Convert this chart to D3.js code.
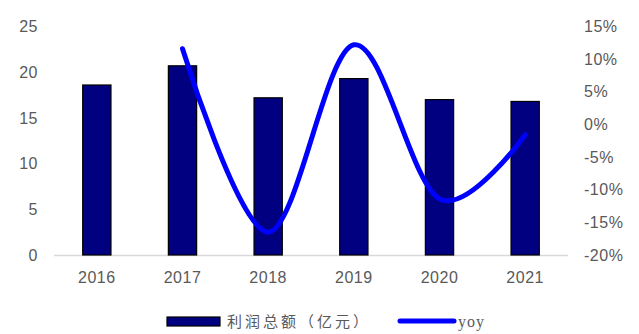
<!DOCTYPE html>
<html lang="zh">
<head>
<meta charset="utf-8">
<title>利润总额</title>
<script src="https://d3js.org/d3.v7.min.js"></script>
<style>
    body { margin: 0; background: #fff; }
    .tick-label { font-family: "Liberation Sans", Arial, sans-serif; font-size: 16px; fill: #595959; letter-spacing: 0.5px; }
    .legend-cn { font-family: "Noto Sans CJK SC", sans-serif; font-size: 15px; fill: #595959; letter-spacing: 3px; }
    .legend-en { font-family: "Liberation Serif", serif; font-size: 16px; fill: #595959; letter-spacing: 1px; }
</style>
</head>
<body>
<div id="chart"></div>
<script>
    // data
    var years = ["2016", "2017", "2018", "2019", "2020", "2021"];
    var profit = [18.6, 20.7, 17.2, 19.3, 17.0, 16.8];      // 利润总额（亿元）
    var yoy = [null, 11.6, -16.5, 12.2, -11.4, -1.6];         // %
    var leftTicks = [0, 5, 10, 15, 20, 25];
    var rightTicks = [-20, -15, -10, -5, 0, 5, 10, 15];

    var WIDTH = 639, HEIGHT = 334;
    var PLOT_LEFT = 54, PLOT_RIGHT = 568, PLOT_TOP = 26.5, PLOT_BOTTOM = 255;

    var svg = d3.select("#chart").append("svg")
        .attr("width", WIDTH)
        .attr("height", HEIGHT);

    var x = d3.scaleBand()
        .domain(years)
        .range([PLOT_LEFT, PLOT_RIGHT])
        .padding(0);
    var barW = x.bandwidth() * 0.33;

    var yL = d3.scaleLinear().domain([0, 25]).range([PLOT_BOTTOM, PLOT_TOP]);
    var yR = d3.scaleLinear().domain([-20, 15]).range([PLOT_BOTTOM, PLOT_TOP]);

    // left axis labels
    svg.selectAll(".lt").data(leftTicks).enter().append("text")
        .attr("class", "tick-label")
        .attr("x", 38)
        .attr("y", d => yL(d))
        .attr("dy", "0.35em")
        .attr("text-anchor", "end")
        .text(d => d);

    // right axis labels
    svg.selectAll(".rt").data(rightTicks).enter().append("text")
        .attr("class", "tick-label")
        .attr("x", 584)
        .attr("y", d => yR(d))
        .attr("dy", "0.35em")
        .attr("text-anchor", "start")
        .text(d => d + "%");

    // category labels
    svg.selectAll(".xt").data(years).enter().append("text")
        .attr("class", "tick-label")
        .attr("x", d => x(d) + x.bandwidth() / 2)
        .attr("y", 277)
        .attr("dy", "0.35em")
        .attr("text-anchor", "middle")
        .text(d => d);

    // baseline
    svg.append("line")
        .attr("x1", PLOT_LEFT).attr("x2", PLOT_RIGHT)
        .attr("y1", yL(0) + 0.5).attr("y2", yL(0) + 0.5)
        .attr("stroke", "#d9d9d9")
        .attr("stroke-width", 1.5);

    // bars
    svg.selectAll(".bar").data(profit).enter().append("rect")
        .attr("class", "bar")
        .attr("x", (d, i) => x(years[i]) + (x.bandwidth() - barW) / 2)
        .attr("y", d => yL(d))
        .attr("width", barW)
        .attr("height", d => yL(0) - yL(d))
        .attr("fill", "#000080")
        .attr("stroke", "#000")
        .attr("stroke-width", 1.2);

    // yoy smooth line
    var line = d3.line()
        .defined(d => d != null)
        .x((d, i) => x(years[i]) + x.bandwidth() / 2)
        .y(d => yR(d))
        .curve(d3.curveCardinal.tension(0));

    var pts = yoy.map((d, i) => ({ v: d, i: i })).filter(d => d.v != null);
    svg.append("path")
        .attr("d", d3.line()
            .x(d => x(years[d.i]) + x.bandwidth() / 2)
            .y(d => yR(d.v))
            .curve(d3.curveCardinal.tension(0))(pts))
        .attr("fill", "none")
        .attr("stroke", "#0000ff")
        .attr("stroke-width", 5)
        .attr("stroke-linecap", "round");

    // legend
    var lg = svg.append("g");
    lg.append("rect")
        .attr("x", 167).attr("y", 317)
        .attr("width", 53).attr("height", 9)
        .attr("fill", "#000080")
        .attr("stroke", "#000")
        .attr("stroke-width", 1.2);
    lg.append("text")
        .attr("class", "legend-cn")
        .attr("x", 227).attr("y", 322)
        .attr("dy", "0.35em")
        .text("利润总额（亿元）");
    lg.append("line")
        .attr("x1", 400).attr("x2", 454)
        .attr("y1", 321).attr("y2", 321)
        .attr("stroke", "#0000ff")
        .attr("stroke-width", 5)
        .attr("stroke-linecap", "round");
    lg.append("text")
        .attr("class", "legend-en")
        .attr("x", 458).attr("y", 321)
        .attr("dy", "0.35em")
        .text("yoy");
</script>
</body>
</html>
